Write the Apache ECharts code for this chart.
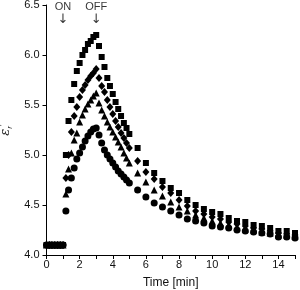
<!DOCTYPE html>
<html><head><meta charset="utf-8">
<script src="https://cdn.jsdelivr.net/npm/echarts@6/dist/echarts.min.js"></script>
<style>html,body{margin:0;padding:0;background:#fff}#c{width:300px;height:290px}</style>
</head><body><div id="c"></div>
<script>
// time points [min]
const baseTimes = [0, 0.17, 0.33, 0.5, 0.67, 0.83, 1.0];
const heatTimes = [1.17, 1.33, 1.5, 1.67, 1.83, 2.0, 2.17, 2.33, 2.5, 2.67, 2.83, 3.0];
const coolTimes = [3.17, 3.33, 3.5, 3.67, 3.83, 4.0, 4.17, 4.33, 4.5, 4.67, 4.83, 5.0];
const lateTimes = [5.5, 6, 6.5, 7, 7.5, 8, 8.5, 9, 9.5, 10, 10.5, 11, 11.5, 12, 12.5, 13, 13.5, 14, 14.5, 15];
const baseValue = 4.1;

// series values (heating + cooling + late)
const squareHeat = [5.00, 5.34, 5.55, 5.71, 5.84, 5.92, 6.00, 6.05, 6.11, 6.14, 6.18, 6.20];
const squareCool = [6.09, 5.98, 5.88, 5.77, 5.69, 5.61, 5.53, 5.46, 5.39, 5.32, 5.27, 5.21];
const squareLate = [5.07, 4.92, 4.82, 4.74, 4.67, 4.62, 4.55, 4.50, 4.46, 4.43, 4.41, 4.37, 4.34, 4.33, 4.30, 4.29, 4.27, 4.24, 4.24, 4.22];

const diamondHeat = [4.77, 5.00, 5.23, 5.39, 5.48, 5.58, 5.65, 5.70, 5.75, 5.79, 5.82, 5.86];
const diamondCool = [5.77, 5.69, 5.63, 5.55, 5.48, 5.41, 5.34, 5.28, 5.22, 5.17, 5.12, 5.07];
const diamondLate = [4.94, 4.83, 4.76, 4.68, 4.62, 4.55, 4.49, 4.44, 4.41, 4.38, 4.36, 4.33, 4.31, 4.29, 4.27, 4.26, 4.24, 4.22, 4.21, 4.20];

const triangleHeat = [4.61, 4.86, 5.02, 5.15, 5.22, 5.33, 5.40, 5.46, 5.51, 5.55, 5.59, 5.62];
const triangleCool = [5.52, 5.45, 5.39, 5.33, 5.28, 5.23, 5.18, 5.13, 5.08, 5.02, 4.97, 4.92];
const triangleLate = [4.82, 4.73, 4.65, 4.59, 4.53, 4.48, 4.44, 4.40, 4.37, 4.34, 4.32, 4.30, 4.28, 4.26, 4.25, 4.23, 4.22, 4.20, 4.20, 4.19];

const circleHeat = [4.44, 4.65, 4.77, 4.87, 4.96, 5.02, 5.08, 5.14, 5.19, 5.23, 5.26, 5.27];
const circleCool = [5.20, 5.12, 5.05, 5.00, 4.96, 4.92, 4.88, 4.84, 4.81, 4.78, 4.75, 4.72];
const circleLate = [4.65, 4.58, 4.52, 4.48, 4.44, 4.40, 4.36, 4.34, 4.32, 4.29, 4.28, 4.27, 4.25, 4.24, 4.23, 4.22, 4.21, 4.18, 4.18, 4.17];

// annotations
const annotTimes = [1, 3];
const annotLabels = ['ON', 'OFF'];
const annotY = 6.41;

// axis ticks
const xMin = 0, xMax = 15, xStep = 1;
const yMin = 4.0, yMax = 6.5, yStep = 0.5;

function build(heat, cool, late) {
  const pts = baseTimes.map(t => [t, baseValue]);
  heat.forEach((v, i) => pts.push([heatTimes[i], v]));
  cool.forEach((v, i) => pts.push([coolTimes[i], v]));
  late.forEach((v, i) => pts.push([lateTimes[i], v]));
  return pts;
}

const font = 'Liberation Sans, Arial, sans-serif';
const chart = echarts.init(document.getElementById('c'), null, {renderer: 'canvas'});
const mk = (name, symbol, size, data) => ({
  name, type: 'scatter', symbol, symbolSize: size, data,
  itemStyle: {color: '#000', opacity: 1}, silent: true, animation: false
});

chart.setOption({
  animation: false,
  backgroundColor: '#fff',
  grid: {left: 46.5, right: 5, top: 5, bottom: 35, containLabel: false, outerBoundsMode: 'none'},
  xAxis: {
    type: 'value', min: xMin, max: xMax, interval: xStep,
    name: 'Time [min]', nameLocation: 'middle', nameGap: 22,
    nameTextStyle: {color: '#111', fontFamily: font, fontSize: 12},
    axisLine: {lineStyle: {color: '#000', width: 1}},
    axisTick: {show: true, inside: false, length: 4, lineStyle: {color: '#000'}},
    axisLabel: {color: '#111', fontFamily: font, fontSize: 11, margin: 4,
      formatter: v => (Math.round(v) % 2 === 0 && v < 15) ? String(v) : ''},
    splitLine: {show: false}
  },
  yAxis: {
    type: 'value', min: yMin, max: yMax, interval: yStep,
    name: '{e|ε}{s|r}{p|\u2032}', nameLocation: 'middle', nameGap: 32, nameRotate: 90,
    nameTextStyle: {
      color: '#111', fontFamily: font,
      rich: {
        e: {fontSize: 13, fontStyle: 'italic', fontFamily: 'DejaVu Serif, serif', color: '#111'},
        s: {fontSize: 8, fontStyle: 'italic', verticalAlign: 'bottom', padding: [6, 0, 0, 0], color: '#111'},
        p: {fontSize: 9, verticalAlign: 'top', padding: [0, 0, 6, 0], color: '#111'}
      }
    },
    axisLine: {show: true, lineStyle: {color: '#000', width: 1}},
    axisTick: {show: true, inside: false, length: 4, lineStyle: {color: '#000'}},
    axisLabel: {color: '#111', fontFamily: font, fontSize: 11, margin: 7,
      formatter: v => v.toFixed(1)},
    splitLine: {show: false}
  },
  series: [
    mk('square', 'rect', 6, build(squareHeat, squareCool, squareLate)),
    mk('diamond', 'diamond', [7, 8], build(diamondHeat, diamondCool, diamondLate)),
    mk('triangle', 'triangle', 7, build(triangleHeat, triangleCool, triangleLate)),
    mk('circle', 'circle', 7, build(circleHeat, circleCool, circleLate)),
    {
      type: 'scatter', symbol: 'circle', symbolSize: 1, silent: true, clip: false,
      itemStyle: {color: 'rgba(255,255,255,0)'},
      data: annotTimes.map((t, i) => ({value: [t, annotY], name: annotLabels[i]})),
      label: {show: true, position: 'inside', formatter: p => '{t|' + p.name + '}\n{a|↓}',
        color: '#000', textBorderWidth: 0, align: 'center', verticalAlign: 'middle',
        rich: {
          t: {fontFamily: font, fontSize: 11, lineHeight: 12, color: '#000', textBorderWidth: 0, align: 'center'},
          a: {fontFamily: 'DejaVu Sans, sans-serif', fontSize: 13, lineHeight: 14, color: '#000', textBorderWidth: 0, align: 'center'}
        }}
    }
  ]
});
</script></body></html>
